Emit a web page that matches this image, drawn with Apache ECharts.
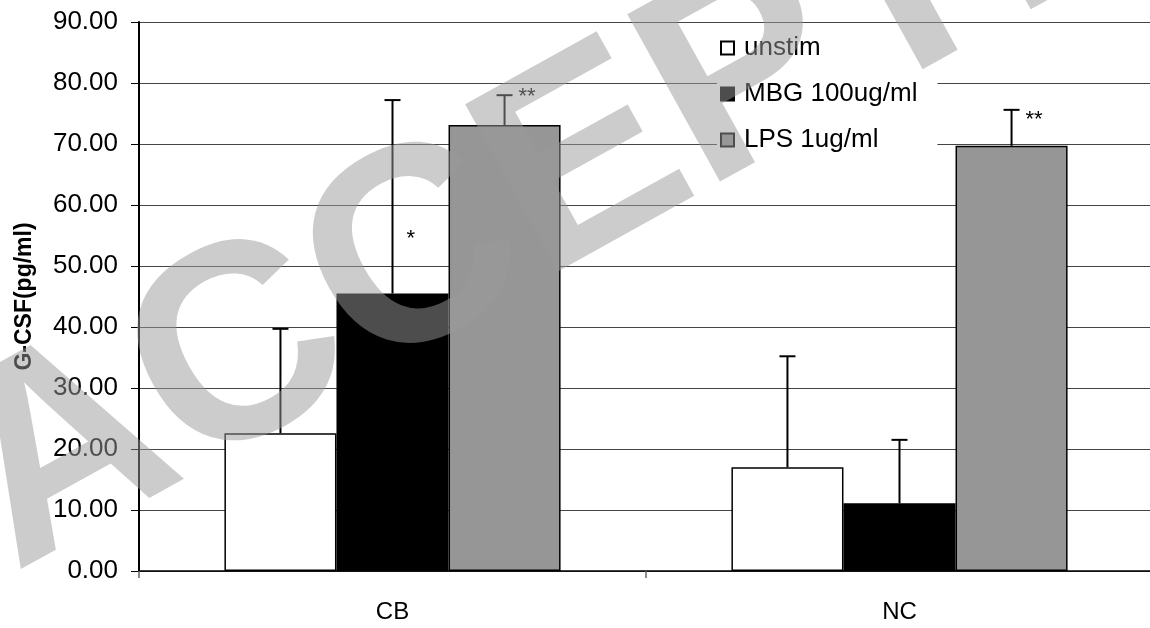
<!DOCTYPE html>
<html>
<head>
<meta charset="utf-8">
<script src="https://cdn.jsdelivr.net/npm/echarts@6/dist/echarts.min.js"></script>
<style>
  html, body { margin: 0; padding: 0; background: #fff; }
  #chart { width: 1150px; height: 628px; }
</style>
</head>
<body>
<div id="chart"></div>
<script>
// values
var categories = ['CB', 'NC'];
var seriesNames = ['unstim', 'MBG 100ug/ml', 'LPS 1ug/ml'];
var unstim = [22.6, 17.0];
var mbg = [45.5, 11.1];
var lps = [73.1, 69.7];
var unstimErr = [17.1, 18.2];
var mbgErr = [31.7, 10.4];
var lpsErr = [4.9, 5.9];
// significance marks per category / series, and the value they sit at
var sigText = [['', '*', '**'], ['', '', '**']];
var sigAt = [[0, 54.5, 77.7], [0, 0, 74.0]];
var yMin = 0, yMax = 90, yStep = 10;

var FONT = '"Liberation Sans", Arial, sans-serif';
var gapRatio = 0.337;
var means = [unstim, mbg, lps];
var errs = [unstimErr, mbgErr, lpsErr];
var fills = ['#ffffff', '#000000', '#969696'];

var errData = [];
var sigData = [];
for (var s = 0; s < 3; s++) {
  for (var c = 0; c < categories.length; c++) {
    errData.push([c, s, means[s][c], means[s][c] + errs[s][c]]);
    if (sigText[c][s]) sigData.push([c, s, sigAt[c][s], sigText[c][s]]);
  }
}

function barOffset(api, s) {
  var band = api.size([1, 0])[0];
  var w = band * (1 - gapRatio) / 3;
  return (s - 1) * w;
}

var chart = echarts.init(document.getElementById('chart'));
var barSeries = seriesNames.map(function (name, i) {
  return {
    name: name,
    type: 'bar',
    data: means[i],
    barGap: 0,
    barCategoryGap: (gapRatio * 100) + '%',
    itemStyle: { color: fills[i], borderColor: '#000', borderWidth: 1.5 },
    emphasis: { disabled: true },
    z: 2
  };
});

chart.setOption({
  animation: false,
  backgroundColor: '#fff',
  grid: { left: 139, width: 1014, top: 22, bottom: 57, outerBoundsMode: 'none', containLabel: false },
  legend: {
    orient: 'vertical',
    left: 717,
    top: 29,
    itemWidth: 13,
    itemHeight: 13,
    itemGap: 20,
    icon: 'rect',
    backgroundColor: '#fff',
    padding: [6, 20, 8, 3],
    data: seriesNames,
    textStyle: { fontFamily: FONT, fontSize: 26, color: '#000', padding: [0, 0, 0, 5] }
  },
  xAxis: {
    type: 'category',
    data: categories,
    axisLine: { lineStyle: { color: '#000', width: 1.5 } },
    axisTick: { show: true, length: 7, lineStyle: { color: '#666', width: 1.5 } },
    axisLabel: { fontFamily: FONT, fontSize: 24, color: '#000', margin: 29 }
  },
  yAxis: {
    type: 'value',
    min: yMin,
    max: yMax,
    interval: yStep,
    name: 'G-CSF(pg/ml)',
    nameLocation: 'middle',
    nameGap: 103,
    nameTextStyle: { fontFamily: FONT, fontSize: 23, fontWeight: 'bold', color: '#000' },
    axisLine: { show: true, lineStyle: { color: '#000', width: 2 } },
    axisTick: { show: true, length: 8, lineStyle: { color: '#000', width: 1 } },
    axisLabel: {
      fontFamily: FONT, fontSize: 26, color: '#000', margin: 21,
      formatter: function (v) { return v.toFixed(2); }
    },
    splitLine: { show: true, lineStyle: { color: '#444', width: 1.2 } }
  },
  series: barSeries.concat([
    {
      type: 'custom',
      data: errData,
      z: 3,
      silent: true,
      renderItem: function (params, api) {
        var off = barOffset(api, api.value(1));
        var base = api.coord([api.value(0), api.value(2)]);
        var top = api.coord([api.value(0), api.value(3)]);
        var x = base[0] + off;
        var cap = 8;
        var st = { stroke: '#000', lineWidth: 2 };
        return {
          type: 'group',
          children: [
            { type: 'line', shape: { x1: x, y1: base[1], x2: x, y2: top[1] }, style: st },
            { type: 'line', shape: { x1: x - cap, y1: top[1], x2: x + cap, y2: top[1] }, style: st }
          ]
        };
      }
    },
    {
      type: 'custom',
      data: sigData,
      z: 3,
      silent: true,
      renderItem: function (params, api) {
        var off = barOffset(api, api.value(1));
        var p = api.coord([api.value(0), api.value(2)]);
        return {
          type: 'text',
          x: p[0] + off + 14,
          y: p[1],
          style: {
            text: api.value(3), fill: '#000',
            font: '22px ' + FONT,
            textAlign: 'left', textVerticalAlign: 'middle'
          }
        };
      }
    }
  ]),
  graphic: [{
    type: 'text',
    x: 45,
    y: 627,
    rotation: 29 * Math.PI / 180,
    z: 100,
    silent: true,
    style: {
      text: 'ACCEPTED',
      font: 'bold 278px ' + FONT,
      fill: 'rgba(153,153,153,0.5)',
      textAlign: 'left',
      textVerticalAlign: 'bottom'
    }
  }]
});
</script>
</body>
</html>
